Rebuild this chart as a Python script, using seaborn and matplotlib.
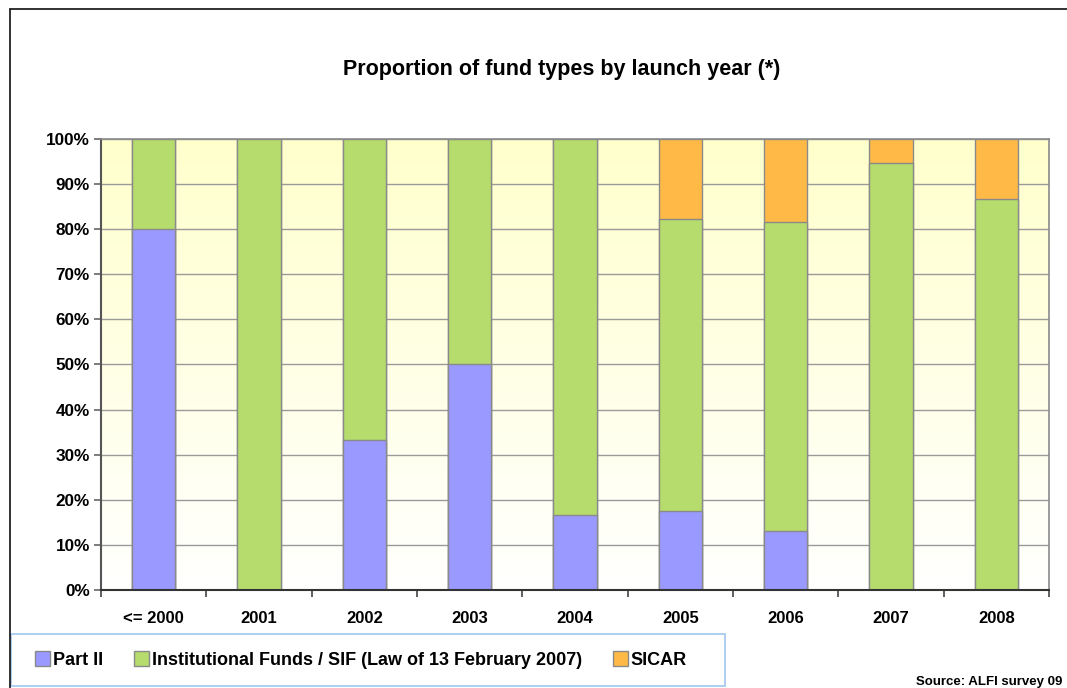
import numpy as np
import pandas as pd
import matplotlib
matplotlib.use("Agg")
import matplotlib.pyplot as plt
from matplotlib.patches import Patch, Rectangle
from matplotlib.lines import Line2D
from matplotlib.colors import LinearSegmentedColormap
import seaborn as sns

# Share of fund types (%) by launch year
years = ["<= 2000", "2001", "2002", "2003", "2004", "2005", "2006", "2007", "2008"]
part_ii = [80.0, 0.0, 33.3, 50.0, 16.7, 17.6, 13.0, 0.0, 0.0]
institutional = [20.0, 100.0, 66.7, 50.0, 83.3, 64.7, 68.5, 94.6, 86.8]
sicar = [0.0, 0.0, 0.0, 0.0, 0.0, 17.7, 18.5, 5.4, 13.2]
y_ticks = [0, 10, 20, 30, 40, 50, 60, 70, 80, 90, 100]

series_names = ["Part II", "Institutional Funds / SIF (Law of 13 February 2007)", "SICAR"]
colors = ["#9999FF", "#B5DC6C", "#FFB946"]
edge = "#8A8A8A"

sns.set_theme(style="white")
plt.rcParams["font.family"] = ["Liberation Sans", "DejaVu Sans"]
plt.rcParams["text.color"] = "black"

df = pd.DataFrame({"year": years, "part_ii": part_ii,
                   "institutional": institutional, "sicar": sicar})
df["c1"] = df["part_ii"]
df["c2"] = df["c1"] + df["institutional"]
df["c3"] = df["c2"] + df["sicar"]

fig = plt.figure(figsize=(10.67, 6.88), dpi=100)
fig.patch.set_facecolor("white")
W, H = 1067, 688
ax = fig.add_axes([101 / W, 1 - 590 / H, (1049 - 101) / W, (590 - 139) / H])

# Vertical cream-to-white gradient behind the bars
cmap = LinearSegmentedColormap.from_list("bg", ["#FFFFFF", "#FFFFCC"])
grad = np.linspace(0, 1, 256).reshape(-1, 1)
ax.imshow(grad, cmap=cmap, aspect="auto", origin="lower",
          extent=(-0.5, len(years) - 0.5, 0, 100), zorder=0)

# Stacked bars: draw cumulative totals from the top segment downwards
for col, color in zip(["c3", "c2", "c1"], colors[::-1]):
    sns.barplot(data=df, x="year", y=col, color=color, saturation=1,
                width=0.41, edgecolor=edge, linewidth=1.0, ax=ax, zorder=3)

ax.set_xlim(-0.5, len(years) - 0.5)
ax.set_ylim(0, 100)
ax.set_xlabel("")
ax.set_ylabel("")
ax.set_yticks(y_ticks)
ax.set_yticklabels([f"{v}%" for v in y_ticks], fontsize=12.3, fontweight="bold",
                   color="black")
ax.set_xticks(range(len(years)))
ax.set_xticklabels(years, fontsize=12, fontweight="bold", color="black")
ax.set_xticks(np.arange(-0.5, len(years), 1.0), minor=True)
ax.tick_params(axis="x", which="major", length=0, pad=15)
ax.tick_params(axis="x", which="minor", length=5, width=1.2, color="#444444",
               direction="out", bottom=True)
ax.tick_params(axis="y", length=5, width=1.2, color="#666666", pad=3,
               left=True, direction="out")
ax.grid(axis="y", color="#9A9A9A", linewidth=1.0, zorder=1)
ax.set_axisbelow(True)
for side in ["top", "right"]:
    ax.spines[side].set_visible(True)
    ax.spines[side].set_color("#8A8A8A")
    ax.spines[side].set_linewidth(1.2)
ax.spines["left"].set_color("#555555")
ax.spines["left"].set_linewidth(1.5)
ax.spines["bottom"].set_color("#333333")
ax.spines["bottom"].set_linewidth(1.5)
for sp in ax.spines.values():
    sp.set_zorder(5)

fig.text(562 / W, 1 - 70 / H, "Proportion of fund types by launch year (*)",
         ha="center", va="center", fontsize=15.5, fontweight="bold", color="black")

# Outer frame of the chart area
fig.add_artist(Line2D([10 / W, 10 / W], [0, 1 - 9 / H], color="#222222", lw=1.3,
                      transform=fig.transFigure))
fig.add_artist(Line2D([10 / W, 1], [1 - 9 / H, 1 - 9 / H], color="#222222", lw=1.3,
                      transform=fig.transFigure))

# Legend box
fig.add_artist(Rectangle((11 / W, 1 - 686 / H), 714 / W, 52 / H,
                         transform=fig.transFigure, facecolor="white",
                         edgecolor="#A8CCEE", linewidth=1.3))
handles = [Patch(facecolor=c, edgecolor=edge, linewidth=1.0) for c in colors]
leg = fig.legend(handles, series_names, loc="center left",
                 bbox_to_anchor=(35 / W, 1 - 660 / H), ncol=3, frameon=False,
                 prop={"size": 13, "weight": "bold"}, handlelength=0.85,
                 handleheight=0.85, handletextpad=0.15, columnspacing=1.7,
                 borderaxespad=0, borderpad=0)
for t in leg.get_texts():
    t.set_color("black")

fig.text(1062 / W, 1 - 682 / H, "Source: ALFI survey 09", ha="right", va="center",
         fontsize=9.5, fontweight="bold", color="black")

fig.savefig("out.png", dpi=100)
